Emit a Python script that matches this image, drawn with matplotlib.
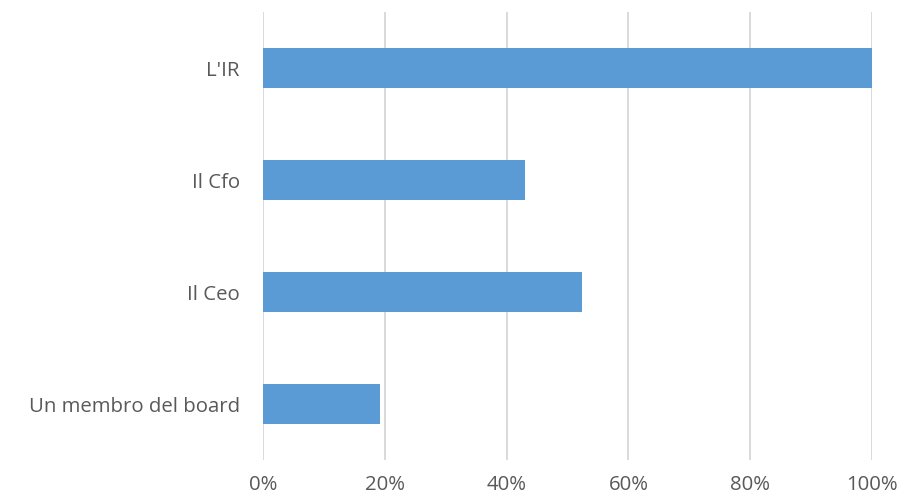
import matplotlib
matplotlib.use("Agg")
import matplotlib.pyplot as plt
from matplotlib.ticker import PercentFormatter

# --- dati ---
categories = ["Un membro del board", "Il Ceo", "Il Cfo", "L'IR"]
values = [19.1, 52.4, 43.0, 100.0]
x_ticks = [0, 20, 40, 60, 80, 100]

plt.rcParams['font.family'] = ['Open Sans', 'DejaVu Sans']
text_color = '#595959'

fig = plt.figure(figsize=(9.02, 5.0), dpi=100)
ax = fig.add_axes([0.2919, 0.08, 0.9667 - 0.2919, 0.976 - 0.08])

ax.barh(categories, values, height=0.36, color='#5B9BD5', zorder=3)

ax.set_xlim(0, 100)
ax.set_ylim(-0.5, len(categories) - 0.5)
ax.set_xticks(x_ticks)
ax.xaxis.set_major_formatter(PercentFormatter(decimals=0))
ax.grid(axis='x', color='#D9D9D9', linewidth=1.4, zorder=0)
ax.set_axisbelow(True)

for s in ax.spines.values():
    s.set_visible(False)

ax.tick_params(axis='both', length=0, labelsize=14.7, colors=text_color)
ax.tick_params(axis='y', pad=17)
ax.tick_params(axis='x', pad=11)

fig.savefig("out.png", dpi=100)
